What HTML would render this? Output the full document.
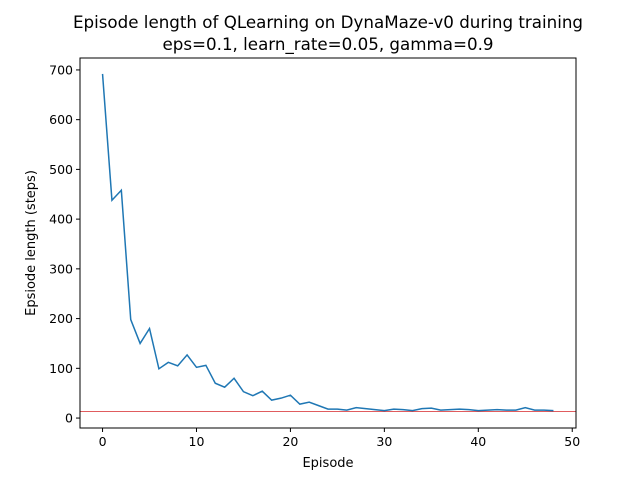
<!DOCTYPE html>
<html><head><meta charset="utf-8"><style>body{margin:0;background:#fff}svg{display:block;font-family:"DejaVu Sans","Liberation Sans",sans-serif}</style></head>
<body>
<svg id="c" width="640" height="480" xmlns="http://www.w3.org/2000/svg"></svg>
<script>
const episodes = Array.from({length:49},(_,i)=>i);
const lengths = [692,438,458,198,150,180,99,112,105,127,102,106,70,62,80,53,45,54,36,40,46,28,32,25,18,18,16,21,19,17,15,18,17,15,19,20,16,17,18,17,15,16,17,16,16,21,16,16,15];
const refValue = 13;
const xTicks = [0,10,20,30,40,50];
const yTicks = [0,100,200,300,400,500,600,700];
const L=80,R=576,T=58,B=428;
const xs=v=>L+(v+2.4)/52.8*(R-L);
const ys=v=>B-(v+20)/744*(B-T);
const svg=document.getElementById('c');const NS='http://www.w3.org/2000/svg';
function mk(t,a,txt){const e=document.createElementNS(NS,t);for(const k in a)e.setAttribute(k,a[k]);if(txt!==undefined)e.textContent=txt;svg.appendChild(e);return e;}
let e;
e=mk('text',{x:328,y:28,'text-anchor':'middle','font-size':16.7},'Episode length of QLearning on DynaMaze-v0 during training');


e=mk('text',{x:328,y:50,'text-anchor':'middle','font-size':16.7},'eps=0.1, learn_rate=0.05, gamma=0.9');


xTicks.forEach(t=>{const x=xs(t);
e=mk('line',{x1:x,x2:x,y1:B,y2:B+4,stroke:'#000'});


e=mk('text',{x:x,y:B+18,'text-anchor':'middle','font-size':12.5},t);

});
yTicks.forEach(t=>{const y=ys(t);
e=mk('line',{x1:L-4,x2:L,y1:y,y2:y,stroke:'#000'});


e=mk('text',{x:L-7,y:y+4.5,'text-anchor':'end','font-size':12.5},t);

});
e=mk('line',{x1:L,x2:R,y1:ys(refValue),y2:ys(refValue),stroke:'#d62728','stroke-width':0.8});


e=mk('polyline',{points:lengths.map((v,i)=>xs(episodes[i])+','+ys(v)).join(' '),fill:'none',stroke:'#1f77b4','stroke-width':1.5});


e=mk('rect',{x:L,y:T,width:R-L,height:B-T,fill:'none',stroke:'#000','stroke-width':1});


e=mk('text',{x:328,y:467,'text-anchor':'middle','font-size':13},'Episode');


e=mk('text',{x:35,y:243,'text-anchor':'middle','font-size':13,transform:'rotate(-90 35 243)'},'Epsiode length (steps)');


</script>
</body></html>
